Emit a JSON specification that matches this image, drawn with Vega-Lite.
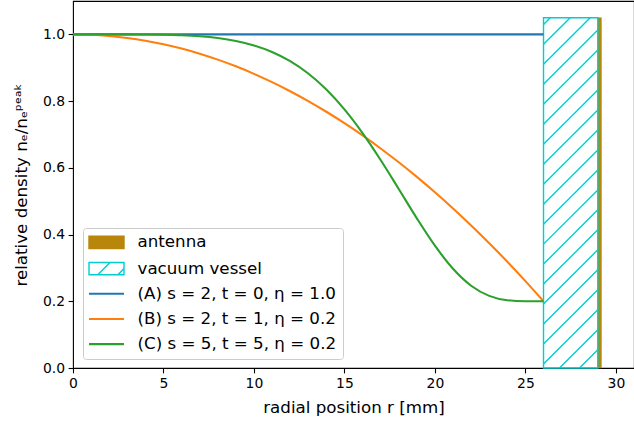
{
  "$schema": "https://vega.github.io/schema/vega-lite/v6.json",
  "width": 561,
  "height": 367,
  "autosize": {"type": "none"},
  "padding": {"left": 73, "top": 1, "right": 0, "bottom": 60},
  "background": "white",
  "config": {
    "view": {"stroke": "black", "strokeWidth": 1.1},
    "font": "DejaVu Sans",
    "axis": {
      "grid": false,
      "domain": false,
      "tickColor": "black",
      "tickSize": 4.9,
      "tickWidth": 1.1,
      "labelPadding": 3.5,
      "labelFont": "DejaVu Sans",
      "labelFontSize": 13.9,
      "labelColor": "black",
      "titleFont": "DejaVu Sans",
      "titleFontSize": 16.7,
      "titleFontWeight": "normal",
      "titleColor": "black"
    }
  },
  "encoding": {
    "x": {
      "field": "x",
      "type": "quantitative",
      "scale": {"domain": [0, 31], "nice": false, "zero": false},
      "axis": {"values": [0, 5, 10, 15, 20, 25, 30], "title": "radial position r [mm]", "titlePadding": 9, "labelFlush": false}
    },
    "y": {
      "field": "y",
      "type": "quantitative",
      "scale": {"domain": [0, 1.1], "nice": false, "zero": false},
      "axis": {"values": [0, 0.2, 0.4, 0.6, 0.8, 1.0], "format": ".1f", "title": "relative density nₑ/nₑᵖᵉᵃᵏ", "titlePadding": 12, "labelFlush": false}
    }
  },
  "layer": [
    {
      "data": {"values": [{"part": "antenna", "x": 29, "x2": 29.2, "y": 0, "y2": 1.05}]},
      "mark": {"type": "rect", "fill": "#b8860b", "stroke": "#b8860b", "strokeWidth": 0.5},
      "encoding": {"x2": {"field": "x2"}, "y2": {"field": "y2"}}
    },
    {
      "data": {"values": [
        {"x": 26, "y": 1.0299, "x2": 26.370, "y2": 1.05},
        {"x": 26, "y": 0.9701, "x2": 27.475, "y2": 1.05},
        {"x": 26, "y": 0.9102, "x2": 28.580, "y2": 1.05},
        {"x": 26, "y": 0.8503, "x2": 29, "y2": 1.0129},
        {"x": 26, "y": 0.7904, "x2": 29, "y2": 0.9530},
        {"x": 26, "y": 0.7305, "x2": 29, "y2": 0.8931},
        {"x": 26, "y": 0.6707, "x2": 29, "y2": 0.8332},
        {"x": 26, "y": 0.6108, "x2": 29, "y2": 0.7734},
        {"x": 26, "y": 0.5509, "x2": 29, "y2": 0.7135},
        {"x": 26, "y": 0.4910, "x2": 29, "y2": 0.6536},
        {"x": 26, "y": 0.4311, "x2": 29, "y2": 0.5937},
        {"x": 26, "y": 0.3713, "x2": 29, "y2": 0.5338},
        {"x": 26, "y": 0.3114, "x2": 29, "y2": 0.4740},
        {"x": 26, "y": 0.2515, "x2": 29, "y2": 0.4141},
        {"x": 26, "y": 0.1916, "x2": 29, "y2": 0.3542},
        {"x": 26, "y": 0.1317, "x2": 29, "y2": 0.2943},
        {"x": 26, "y": 0.0719, "x2": 29, "y2": 0.2344},
        {"x": 26, "y": 0.0120, "x2": 29, "y2": 0.1745},
        {"x": 26.884, "y": 0, "x2": 29, "y2": 0.1147},
        {"x": 27.989, "y": 0, "x2": 29, "y2": 0.0548}
      ]},
      "mark": {"type": "rule", "stroke": "darkturquoise", "strokeWidth": 1.4},
      "encoding": {"x2": {"field": "x2"}, "y2": {"field": "y2"}}
    },
    {
      "data": {"values": [{"part": "vacuum vessel", "x": 26, "x2": 29, "y": 0, "y2": 1.05}]},
      "mark": {"type": "rect", "fill": null, "fillOpacity": 0, "stroke": "darkturquoise", "strokeWidth": 1.4},
      "encoding": {"x2": {"field": "x2"}, "y2": {"field": "y2"}}
    },
    {
      "data": {"values": [
        {"s": "(A) s = 2, t = 0, η = 1.0", "x": 0, "y": 1.0},
        {"s": "(A) s = 2, t = 0, η = 1.0", "x": 26, "y": 1.0},
        {"s": "(B) s = 2, t = 1, η = 0.2", "x": 0, "y": 1.0},
        {"s": "(B) s = 2, t = 1, η = 0.2", "x": 1, "y": 0.99882},
        {"s": "(B) s = 2, t = 1, η = 0.2", "x": 2, "y": 0.99527},
        {"s": "(B) s = 2, t = 1, η = 0.2", "x": 3, "y": 0.98935},
        {"s": "(B) s = 2, t = 1, η = 0.2", "x": 4, "y": 0.98107},
        {"s": "(B) s = 2, t = 1, η = 0.2", "x": 5, "y": 0.97041},
        {"s": "(B) s = 2, t = 1, η = 0.2", "x": 6, "y": 0.9574},
        {"s": "(B) s = 2, t = 1, η = 0.2", "x": 7, "y": 0.94201},
        {"s": "(B) s = 2, t = 1, η = 0.2", "x": 8, "y": 0.92426},
        {"s": "(B) s = 2, t = 1, η = 0.2", "x": 9, "y": 0.90414},
        {"s": "(B) s = 2, t = 1, η = 0.2", "x": 10, "y": 0.88166},
        {"s": "(B) s = 2, t = 1, η = 0.2", "x": 11, "y": 0.8568},
        {"s": "(B) s = 2, t = 1, η = 0.2", "x": 12, "y": 0.82959},
        {"s": "(B) s = 2, t = 1, η = 0.2", "x": 13, "y": 0.8},
        {"s": "(B) s = 2, t = 1, η = 0.2", "x": 14, "y": 0.76805},
        {"s": "(B) s = 2, t = 1, η = 0.2", "x": 15, "y": 0.73373},
        {"s": "(B) s = 2, t = 1, η = 0.2", "x": 16, "y": 0.69704},
        {"s": "(B) s = 2, t = 1, η = 0.2", "x": 17, "y": 0.65799},
        {"s": "(B) s = 2, t = 1, η = 0.2", "x": 18, "y": 0.61657},
        {"s": "(B) s = 2, t = 1, η = 0.2", "x": 19, "y": 0.57278},
        {"s": "(B) s = 2, t = 1, η = 0.2", "x": 20, "y": 0.52663},
        {"s": "(B) s = 2, t = 1, η = 0.2", "x": 21, "y": 0.47811},
        {"s": "(B) s = 2, t = 1, η = 0.2", "x": 22, "y": 0.42722},
        {"s": "(B) s = 2, t = 1, η = 0.2", "x": 23, "y": 0.37396},
        {"s": "(B) s = 2, t = 1, η = 0.2", "x": 24, "y": 0.31834},
        {"s": "(B) s = 2, t = 1, η = 0.2", "x": 25, "y": 0.26036},
        {"s": "(B) s = 2, t = 1, η = 0.2", "x": 26, "y": 0.2},
        {"s": "(C) s = 5, t = 5, η = 0.2", "x": 0, "y": 1.0},
        {"s": "(C) s = 5, t = 5, η = 0.2", "x": 2, "y": 0.99999},
        {"s": "(C) s = 5, t = 5, η = 0.2", "x": 3, "y": 0.99992},
        {"s": "(C) s = 5, t = 5, η = 0.2", "x": 4, "y": 0.99966},
        {"s": "(C) s = 5, t = 5, η = 0.2", "x": 5, "y": 0.99895},
        {"s": "(C) s = 5, t = 5, η = 0.2", "x": 6, "y": 0.99739},
        {"s": "(C) s = 5, t = 5, η = 0.2", "x": 7, "y": 0.99436},
        {"s": "(C) s = 5, t = 5, η = 0.2", "x": 8, "y": 0.98903},
        {"s": "(C) s = 5, t = 5, η = 0.2", "x": 9, "y": 0.98032},
        {"s": "(C) s = 5, t = 5, η = 0.2", "x": 10, "y": 0.9669},
        {"s": "(C) s = 5, t = 5, η = 0.2", "x": 11, "y": 0.94723},
        {"s": "(C) s = 5, t = 5, η = 0.2", "x": 12, "y": 0.91966},
        {"s": "(C) s = 5, t = 5, η = 0.2", "x": 13, "y": 0.88257},
        {"s": "(C) s = 5, t = 5, η = 0.2", "x": 14, "y": 0.83461},
        {"s": "(C) s = 5, t = 5, η = 0.2", "x": 15, "y": 0.77501},
        {"s": "(C) s = 5, t = 5, η = 0.2", "x": 16, "y": 0.70402},
        {"s": "(C) s = 5, t = 5, η = 0.2", "x": 17, "y": 0.62339},
        {"s": "(C) s = 5, t = 5, η = 0.2", "x": 18, "y": 0.53648},
        {"s": "(C) s = 5, t = 5, η = 0.2", "x": 19, "y": 0.44866},
        {"s": "(C) s = 5, t = 5, η = 0.2", "x": 20, "y": 0.36661},
        {"s": "(C) s = 5, t = 5, η = 0.2", "x": 21, "y": 0.2974},
        {"s": "(C) s = 5, t = 5, η = 0.2", "x": 22, "y": 0.24657},
        {"s": "(C) s = 5, t = 5, η = 0.2", "x": 23, "y": 0.21617},
        {"s": "(C) s = 5, t = 5, η = 0.2", "x": 24, "y": 0.20312},
        {"s": "(C) s = 5, t = 5, η = 0.2", "x": 25, "y": 0.20014},
        {"s": "(C) s = 5, t = 5, η = 0.2", "x": 26, "y": 0.2}
      ]},
      "mark": {"type": "line", "strokeWidth": 2.1, "interpolate": "monotone"},
      "encoding": {
        "color": {
          "field": "s",
          "type": "nominal",
          "scale": {
            "domain": ["antenna", "vacuum vessel", "(A) s = 2, t = 0, η = 1.0", "(B) s = 2, t = 1, η = 0.2", "(C) s = 5, t = 5, η = 0.2"],
            "range": ["#b8860b", "darkturquoise", "#1f77b4", "#ff7f0e", "#2ca02c"]
          },
          "legend": {
            "title": null,
            "orient": "bottom-left",
            "offset": 9.5,
            "symbolType": "stroke",
            "symbolSize": 1225,
            "symbolStrokeWidth": 2.1,
            "labelFont": "DejaVu Sans",
            "labelFontSize": 16.7,
            "labelColor": "black",
            "labelOffset": 13,
            "labelLimit": 400,
            "rowPadding": 7.2,
            "padding": 6,
            "strokeColor": "#cccccc",
            "fillColor": "rgba(255,255,255,0.8)",
            "cornerRadius": 3,
            "encode": {
              "symbols": {
                "update": {
                  "x": {"value": 17.5},
                  "size": {"value": 1225},
                  "shape": {"signal": "datum.value === 'antenna' ? 'M-1,-0.35H1V0.35H-1Z' : datum.value === 'vacuum vessel' ? 'M-1,-0.35H1V0.35H-1ZM-0.5,0.35L0.2,-0.35M0.65,0.35L1,0' : 'stroke'"},
                  "fill": {"signal": "datum.value === 'antenna' ? '#b8860b' : 'transparent'"},
                  "strokeWidth": {"signal": "datum.value === 'antenna' || datum.value === 'vacuum vessel' ? 1.4 : 2.1"}
                }
              },
              "labels": {
                "update": {
                  "x": {"value": 48.5}
                }
              }
            }
          }
        }
      }
    }
  ]
}
